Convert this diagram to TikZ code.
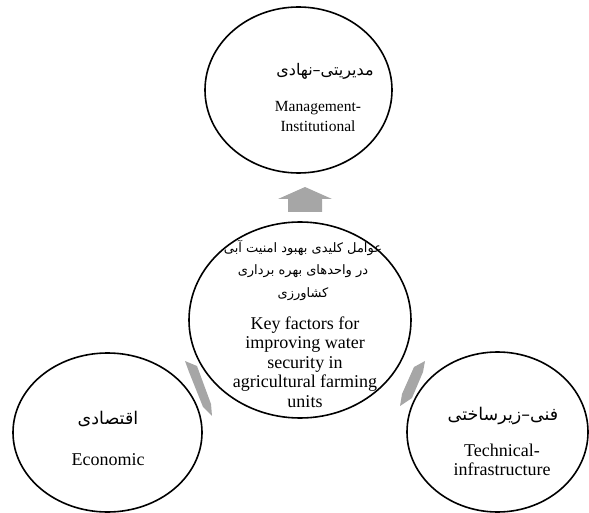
\documentclass[tikz,border=0pt]{standalone}
\usepackage{fontspec}
\setmainfont{Liberation Serif}
\newfontfamily\farsi[Script=Arabic]{DejaVu Sans}
\TeXXeTstate=1
\usetikzlibrary{shapes.geometric}
\definecolor{arrowgray}{HTML}{A6A6A6}
\tikzset{
  factor/.style={draw, ellipse, line width=1.6pt, fill=white, inner sep=0pt},
  fa/.style={font=\farsi\fontsize{13}{22.5}\selectfont, align=center, inner sep=0pt},
  en/.style={font=\fontsize{18}{19.5}\selectfont, align=center, inner sep=0pt},
  blockarrow/.style={fill=arrowgray, draw=none}
}
\begin{document}
\begin{tikzpicture}[x=1pt, y=-1pt]
        \useasboundingbox (0,0) rectangle (589,513);
        \node[factor, minimum width=187pt, minimum height=166pt] (Mgmt) at (298.5,90) {};
        \node[factor, minimum width=222pt, minimum height=196pt] (Key) at (300,320) {};
        \node[factor, minimum width=189pt, minimum height=159pt] (Econ) at (107.5,432.5) {};
        \node[factor, minimum width=181pt, minimum height=160pt] (Tech) at (497.5,432) {};
        \fill[blockarrow] (288,212) -- (288,199) -- (278,199) -- (305,187) -- (332,199) -- (322,199) -- (322,212) -- cycle;
        \fill[blockarrow] (185,361) -- (197,366) -- (211,404) -- (212,416) -- (203,407) -- (189,372) -- cycle;
        \fill[blockarrow] (425,361) -- (423,372) -- (412,398) -- (400,406) -- (402,394) -- (414,367) -- cycle;
        \node[fa, font=\farsi\fontsize{16}{20}\selectfont] (MgmtFa) at (325,71) {\beginR مدیریتی–نهادی\endR};
        \node[en, font=\fontsize{15.5}{20}\selectfont] (MgmtEn) at (318,117) {Management-\\Institutional};
        \node[fa] (KeyFa) at (303,270) {\beginR عوامل کلیدی بهبود امنیت آبی\endR\\\beginR در واحدهای بهره برداری\endR\\\beginR کشاورزی\endR};
        \node[en] (KeyEn) at (305,362) {Key factors for\\improving water\\security in\\agricultural farming\\units};
        \node[fa, font=\farsi\fontsize{17.5}{22}\selectfont] (EconFa) at (108,419) {\beginR اقتصادی\endR};
        \node[en] (EconEn) at (108,460) {Economic};
        \node[fa, font=\farsi\fontsize{17.5}{22}\selectfont] (TechFa) at (503,416) {\beginR فنی–زیرساختی\endR};
        \node[en] (TechEn) at (502,460) {Technical-\\infrastructure};
    \end{tikzpicture}
\end{document}
